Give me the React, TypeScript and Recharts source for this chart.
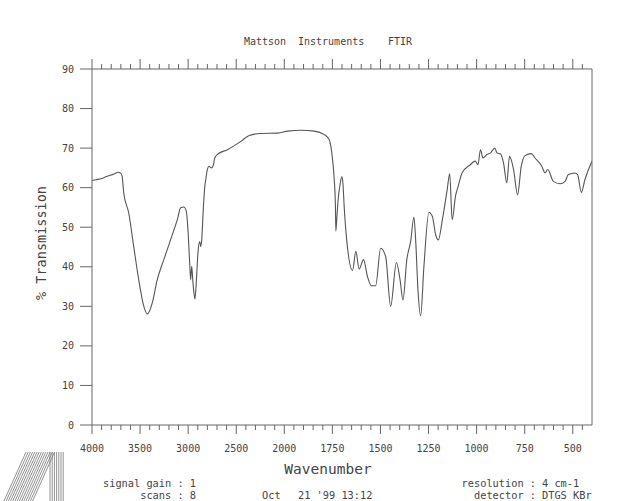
import React from "react";
import { LineChart, Line, XAxis, YAxis } from "recharts";

// spectrum, wavenumber in cm-1, descending
const wavenumber = [
  4000, 3960, 3900, 3850, 3800, 3760, 3730, 3700, 3687, 3670, 3618, 3566, 3514,
  3461, 3426, 3400, 3374, 3322, 3253, 3183, 3113, 3078, 3044, 3019, 3002, 2984,
  2974, 2963, 2950, 2939, 2929, 2914, 2897, 2880, 2870, 2859, 2841, 2825, 2817,
  2800, 2783, 2758, 2737, 2723, 2696, 2591, 2452, 2365, 2243, 2069, 1982, 1913,
  1844, 1792, 1767, 1758, 1749, 1741, 1734, 1732, 1726, 1720, 1710, 1701, 1695,
  1689, 1672, 1645, 1628, 1611, 1588, 1568, 1547, 1525, 1499, 1473, 1447, 1417,
  1398, 1383, 1363, 1343, 1326, 1317, 1305, 1291, 1274, 1248, 1230, 1213, 1199,
  1178, 1153, 1140, 1127, 1110, 1095, 1076, 1033, 1007, 993, 980, 967, 946, 928,
  906, 894, 875, 860, 843, 829, 808, 787, 768, 748, 716, 696, 661, 644, 630, 601,
  566, 540, 523, 489, 475, 455, 437, 400,
];

const transmission = [
  61.8, 62.0, 62.3, 62.8, 63.2, 63.6, 63.9, 63.6, 62.9, 58.7, 53.6, 45.1, 36.7,
  30.0, 28.1, 28.9, 30.8, 36.7, 41.8, 46.8, 51.9, 54.9, 55.1, 54.0, 49.4, 40.9,
  36.7, 40.1, 36.0, 33.3, 31.8, 36.7, 43.9, 46.4, 45.1, 46.8, 55.3, 60.8, 62.0,
  64.6, 65.4, 65.0, 65.8, 67.5, 68.4, 69.6, 71.7, 73.2, 73.7, 73.8, 74.3, 74.5,
  74.3, 73.4, 72.2, 70.5, 67.0, 62.5, 55.0, 49.0, 53.0, 57.0, 60.8, 62.8, 61.0,
  55.5, 45.1, 39.1, 43.9, 39.4, 41.8, 37.6, 35.2, 35.2, 44.7, 42.6, 30.0, 41.1,
  36.7, 31.6, 41.8, 46.4, 52.6, 46.8, 34.2, 27.6, 40.1, 53.8, 52.7, 48.1, 46.8,
  51.9, 59.5, 63.5, 51.9, 57.8, 60.5, 63.7, 65.8, 66.7, 65.8, 69.6, 67.5, 68.4, 68.8,
  70.0, 68.8, 68.5, 66.2, 61.2, 67.9, 64.6, 58.2, 65.4, 68.1, 68.6, 67.5, 65.4, 63.7,
  64.6, 61.6, 61.0, 61.6, 63.3, 63.7, 63.3, 58.8, 62.0, 66.7,
];

const majorLabels = [4000, 3500, 3000, 2500, 2000, 1750, 1500, 1250, 1000, 750, 500];
const yTicks = [0, 10, 20, 30, 40, 50, 60, 70, 80, 90];

const W_MAX = 4000;
const W_BREAK = 2000;
const W_MIN = 400;

const AXIS = "#666";
const INK = "#444";
const MONO = "'DejaVu Sans Mono', 'Liberation Mono', monospace";

// the instrument plots 500 cm-1 per division above 2000 and 250 below
function toAxis(w: number) {
  return w >= W_BREAK
    ? (W_MAX - w) / 500
    : (W_MAX - W_BREAK) / 500 + (W_BREAK - w) / 250;
}

function fromAxis(v: number) {
  const b = (W_MAX - W_BREAK) / 500;
  return v <= b ? W_MAX - v * 500 : W_BREAK - (v - b) * 250;
}

const tickWn: number[] = [];
for (let w = W_MAX; w > W_BREAK; w -= 100) tickWn.push(w);
for (let w = W_BREAK; w > W_MIN; w -= 50) tickWn.push(w);
const tickPos = tickWn.map(toAxis);

const data = wavenumber.map((w, i) => ({ x: toAxis(w), t: transmission[i] }));

const BottomTick = (props: any) => {
  const { x, y, payload } = props;
  const w = Math.round(fromAxis(payload.value));
  const major = majorLabels.includes(w);
  return (
    <g>
      <line x1={x} x2={x} y1={y} y2={y + (major ? 9 : 5)} stroke={AXIS} />
      {major && (
        <text x={x} y={y + 27} textAnchor="middle" fill={INK} fontSize={10} fontFamily={MONO}>
          {w}
        </text>
      )}
    </g>
  );
};

const TopTick = (props: any) => {
  const { x, y, payload } = props;
  const w = Math.round(fromAxis(payload.value));
  const major = majorLabels.includes(w);
  return <line x1={x} x2={x} y1={y} y2={y - (major ? 10 : 5)} stroke={AXIS} />;
};

const logoStripes = [0, 1, 2, 3, 4, 5, 6, 7, 8, 9, 10, 11, 12, 13];
const logoBars = [0, 1, 2, 3, 4, 5, 6];

export default function App() {
  return (
    <div style={{ position: "absolute", left: 0, top: 0, width: 618, height: 501, background: "#fff" }}>
      <LineChart width={618} height={501} data={data} margin={{ top: 49, right: 10, bottom: 46, left: 42 }}>
        <XAxis
          xAxisId="b"
          type="number"
          dataKey="x"
          domain={[0, toAxis(W_MIN)]}
          ticks={tickPos}
          interval={0}
          tick={<BottomTick />}
          tickLine={false}
          tickSize={0}
          tickMargin={0}
          axisLine={{ stroke: AXIS }}
          height={30}
          allowDataOverflow
        />
        <XAxis
          xAxisId="t"
          orientation="top"
          type="number"
          dataKey="x"
          domain={[0, toAxis(W_MIN)]}
          ticks={tickPos}
          interval={0}
          tick={<TopTick />}
          tickLine={false}
          tickSize={0}
          tickMargin={0}
          axisLine={{ stroke: AXIS }}
          height={20}
          allowDataOverflow
        />
        <YAxis
          yAxisId="l"
          type="number"
          domain={[0, 90]}
          ticks={yTicks}
          interval={0}
          tickSize={12}
          tickMargin={6}
          width={50}
          axisLine={{ stroke: AXIS }}
          tickLine={{ stroke: AXIS }}
          tick={{ fill: INK, fontSize: 10, fontFamily: MONO }}
        />
        <YAxis
          yAxisId="r"
          orientation="right"
          type="number"
          domain={[0, 90]}
          ticks={yTicks}
          interval={0}
          tickSize={10}
          width={16}
          axisLine={{ stroke: AXIS }}
          tickLine={{ stroke: AXIS }}
          tick={false}
        />
        <Line
          xAxisId="t"
          yAxisId="r"
          dataKey="t"
          stroke="none"
          dot={false}
          isAnimationActive={false}
        />
        <Line
          xAxisId="b"
          yAxisId="l"
          type="monotone"
          dataKey="t"
          stroke="#555"
          strokeWidth={1.1}
          dot={false}
          isAnimationActive={false}
        />
      </LineChart>

      <svg width={618} height={501} style={{ position: "absolute", left: 0, top: 0, pointerEvents: "none" }}>
        <g fill={INK} fontFamily={MONO} fontSize={10}>
          <text x={244} y={45}>Mattson</text>
          <text x={298} y={45}>Instruments</text>
          <text x={388} y={45}>FTIR</text>
        </g>
        <text
          x={46}
          y={243}
          transform="rotate(-90 46 243)"
          textAnchor="middle"
          fill={INK}
          fontFamily={MONO}
          fontSize={13.5}
        >
          % Transmission
        </text>
        <text x={328} y={474} textAnchor="middle" fill={INK} fontFamily={MONO} fontSize={14.5}>
          Wavenumber
        </text>
        <g fill={INK} fontFamily={MONO} fontSize={10.3}>
          <text x={196} y={487} textAnchor="end">signal gain : 1</text>
          <text x={196} y={499} textAnchor="end">scans : 8</text>
          <text x={262} y={499}>Oct</text>
          <text x={298} y={499}>21 '99 13:12</text>
          <text x={536} y={487} textAnchor="end">resolution :</text>
          <text x={542} y={487}>4 cm-1</text>
          <text x={536} y={499} textAnchor="end">detector :</text>
          <text x={542} y={499}>DTGS KBr</text>
        </g>
        <g stroke="#777" strokeWidth={0.8}>
          {logoStripes.map((i) => (
            <line key={"s" + i} x1={26 + i * 2.2} y1={452} x2={4 + i * 2.2} y2={501} />
          ))}
          {logoBars.map((i) => (
            <line key={"b" + i} x1={50 + i * 2.2} y1={452} x2={50 + i * 2.2} y2={501} />
          ))}
        </g>
      </svg>
    </div>
  );
}
